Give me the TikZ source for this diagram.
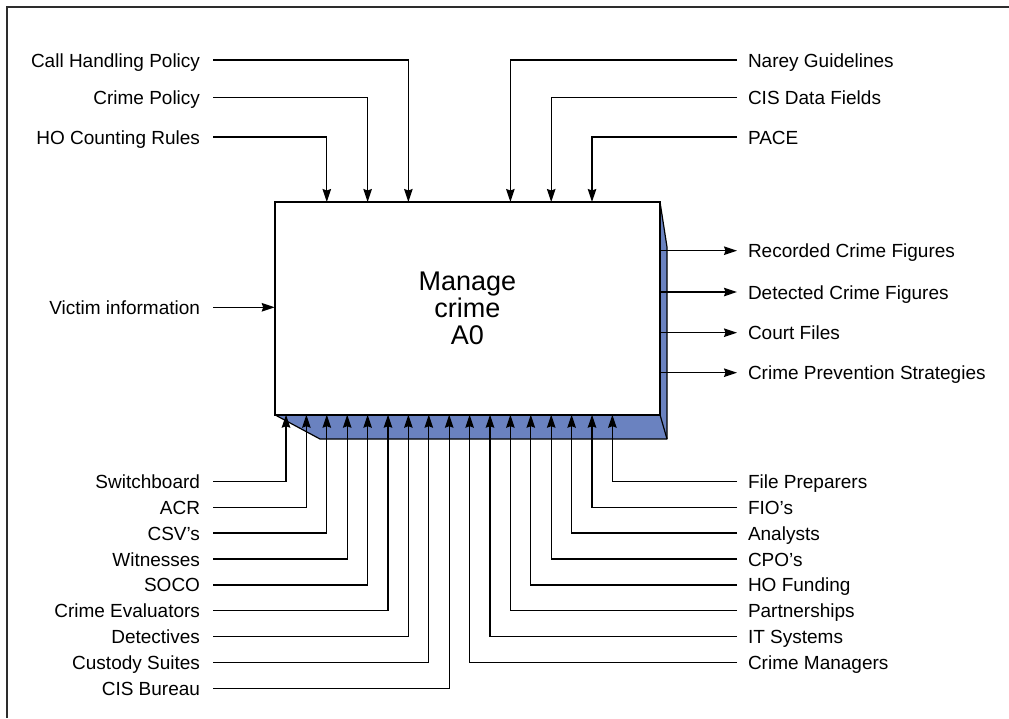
\documentclass[tikz,border=0pt]{standalone}
\usepackage{fontspec}
\setmainfont{Liberation Sans}
\usetikzlibrary{arrows.meta}
\definecolor{shade}{RGB}{106,130,192}
\definecolor{framegray}{RGB}{45,45,45}
\begin{document}
\begin{tikzpicture}[x=1pt,y=-1pt,
  conn/.style={line width=1.3pt, black},
  arr/.style={conn, -{Stealth[length=13pt,width=8.5pt,inset=1.5pt]}},
  lbl/.style={font=\fontsize{19pt}{22pt}\selectfont, inner sep=0pt, text height=14pt, text depth=0pt},
  lblL/.style={lbl, anchor=east, outer xsep=13pt},
  lblR/.style={lbl, anchor=west, outer xsep=11pt},
  mainbox/.style={draw, fill=white, line width=2pt, minimum width=385.3pt, minimum height=212.7pt,
    inner sep=0pt, outer sep=0pt, anchor=north west, align=center,
    font=\fontsize{27pt}{26.7pt}\selectfont},
  frameline/.style={line width=2.8pt, framegray}
]
\useasboundingbox (0,0) rectangle (1009,718);
% open frame
\draw[frameline] (1009,7) -- (7,7) -- (7,718);
% 3D shadow of the box
\filldraw[fill=shade, line width=1.2pt, line join=round] (660,202) -- (667,247) -- (667,439) -- (320,439) -- (274.7,414.7) -- cycle;
\draw[line width=1.2pt] (660,414.7) -- (667,439);
% main box
\node[mainbox] (box) at (274.7,202) {Manage\\crime\\A0};

% ports on the box
\foreach \i in {0,...,16} {
  \coordinate (p\i) at ({286+20.4*\i},414.7);
}
\coordinate (t1) at (408.4,202);
\coordinate (t2) at (367.6,202);
\coordinate (t3) at (326.8,202);
\coordinate (t4) at (510.4,202);
\coordinate (t5) at (551.2,202);
\coordinate (t6) at (592,202);

% controls (top)
\node[lblL] (tl1) at (213,60) {Call Handling Policy};
\node[lblL] (tl2) at (213,97.3) {Crime Policy};
\node[lblL] (tl3) at (213,137) {HO Counting Rules};
\node[lblR] (tr1) at (737,60) {Narey Guidelines};
\node[lblR] (tr2) at (737,97.3) {CIS Data Fields};
\node[lblR] (tr3) at (737,137) {PACE};
\draw[arr] (tl1.east) -| (t1);
\draw[arr] (tl2.east) -| (t2);
\draw[arr] (tl3.east) -| (t3);
\draw[arr] (tr1.west) -| (t4);
\draw[arr] (tr2.west) -| (t5);
\draw[arr] (tr3.west) -| (t6);

% input
\node[lblL] (vi) at (213,307.3) {Victim information};
\draw[arr] (vi.east) -- (vi.east -| box.west);

% outputs
\node[lblR] (o1) at (737,250.7) {Recorded Crime Figures};
\node[lblR] (o2) at (737,292) {Detected Crime Figures};
\node[lblR] (o3) at (737,332.7) {Court Files};
\node[lblR] (o4) at (737,372.7) {Crime Prevention Strategies};
\foreach \o in {o1,o2,o3,o4} {
  \draw[arr] (\o.west -| box.east) -- (\o.west);
}

% mechanisms (bottom left)
\node[lblL] (m0) at (213,481.3) {Switchboard};
\node[lblL] (m1) at (213,507.2) {ACR};
\node[lblL] (m2) at (213,533.1) {CSV’s};
\node[lblL] (m3) at (213,559) {Witnesses};
\node[lblL] (m4) at (213,584.9) {SOCO};
\node[lblL] (m5) at (213,610.8) {Crime Evaluators};
\node[lblL] (m6) at (213,636.7) {Detectives};
\node[lblL] (m7) at (213,662.6) {Custody Suites};
\node[lblL] (m8) at (213,688.5) {CIS Bureau};
\foreach \i in {0,...,8} {
  \draw[arr] (m\i.east) -| (p\i);
}

% mechanisms (bottom right)
\node[lblR] (n16) at (737,481.3) {File Preparers};
\node[lblR] (n15) at (737,507.2) {FIO’s};
\node[lblR] (n14) at (737,533.1) {Analysts};
\node[lblR] (n13) at (737,559) {CPO’s};
\node[lblR] (n12) at (737,584.9) {HO Funding};
\node[lblR] (n11) at (737,610.8) {Partnerships};
\node[lblR] (n10) at (737,636.7) {IT Systems};
\node[lblR] (n9) at (737,662.6) {Crime Managers};
\foreach \i in {9,...,16} {
  \draw[arr] (n\i.west) -| (p\i);
}
\end{tikzpicture}
\end{document}
